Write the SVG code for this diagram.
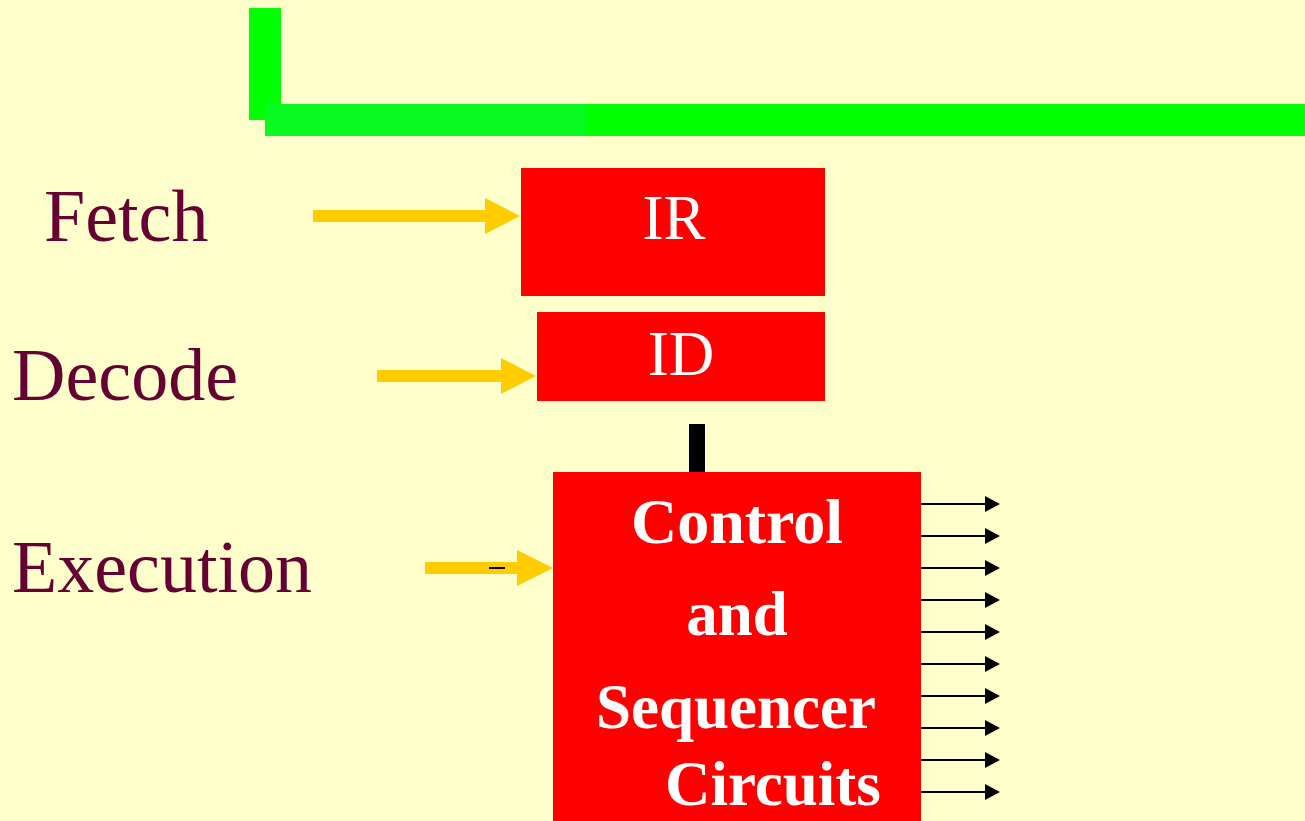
<svg xmlns="http://www.w3.org/2000/svg" width="1305" height="821" viewBox="0 0 1305 821">
  <style>
    .bg { fill: #FFFFCC; }
    .box { fill: #FF0000; }
    .lbl { font-family: "Liberation Serif", "Times New Roman", serif; font-size: 74px; fill: #660033; }
    .reg { font-family: "Liberation Serif", "Times New Roman", serif; font-size: 63px; fill: #FFFFFF; text-anchor: middle; }
    .bold { font-family: "Liberation Serif", "Times New Roman", serif; font-size: 63px; font-weight: bold; fill: #FFFFFF; }
    .yarrow { fill: #FFCC00; }
    .sig { stroke: #000000; stroke-width: 2.2; fill: none; }
  </style>
  <defs>
    <marker id="ah" markerUnits="userSpaceOnUse" markerWidth="15" markerHeight="16" refX="1" refY="8" orient="auto" viewBox="0 0 15 16">
      <path d="M0,0 L15,8 L0,16 Z" fill="#000000"/>
    </marker>
  </defs>
  <rect class="bg" x="0" y="0" width="1305" height="821"/>

  <g id="bus">
    <rect x="249" y="8" width="32" height="112" fill="#00FF00"/>
    <rect x="265" y="104" width="320" height="32" fill="#08FA20"/>
    <rect x="585" y="104" width="720" height="32" fill="#00FF00"/>
  </g>

  <g id="label-fetch"><text class="lbl" x="44" y="241">Fetch</text></g>
  <g id="label-decode"><text class="lbl" x="12" y="400">Decode</text></g>
  <g id="label-execution"><text class="lbl" x="12" y="592">Execution</text></g>

  <g id="node-ir">
    <rect class="box" x="521" y="168" width="304" height="128"/>
    <text class="reg" x="674" y="239">IR</text>
  </g>
  <g id="node-id">
    <rect class="box" x="537" y="312" width="288" height="89"/>
    <text class="reg" x="681" y="375">ID</text>
  </g>
  <g id="node-control">
    <rect class="box" x="553" y="472" width="368" height="349"/>
    <text class="bold" x="737" y="543" text-anchor="middle" style="font-size:64px">Control</text>
    <text class="bold" x="737" y="635" text-anchor="middle">and</text>
    <text class="bold" x="736" y="728" text-anchor="middle">Sequencer</text>
    <text class="bold" x="665" y="805">Circuits</text>
  </g>

  <g id="connectors">
    <polygon class="yarrow" points="313,210 485,210 485,198 520,216 485,234 485,222 313,222"/>
    <polygon class="yarrow" points="377,370 501,370 501,358 536,376 501,394 501,382 377,382"/>
    <polygon class="yarrow" points="425,562 517,562 517,550 553,568 517,586 517,574 425,574"/>
    <rect x="489" y="567" width="16" height="2" fill="#000000"/>
    <rect x="689" y="424" width="16" height="48" fill="#000000"/>
    <line class="sig" x1="921" y1="504" x2="986" y2="504" marker-end="url(#ah)"/>
    <line class="sig" x1="921" y1="536" x2="986" y2="536" marker-end="url(#ah)"/>
    <line class="sig" x1="921" y1="568" x2="986" y2="568" marker-end="url(#ah)"/>
    <line class="sig" x1="921" y1="600" x2="986" y2="600" marker-end="url(#ah)"/>
    <line class="sig" x1="921" y1="632" x2="986" y2="632" marker-end="url(#ah)"/>
    <line class="sig" x1="921" y1="664" x2="986" y2="664" marker-end="url(#ah)"/>
    <line class="sig" x1="921" y1="696" x2="986" y2="696" marker-end="url(#ah)"/>
    <line class="sig" x1="921" y1="728" x2="986" y2="728" marker-end="url(#ah)"/>
    <line class="sig" x1="921" y1="760" x2="986" y2="760" marker-end="url(#ah)"/>
    <line class="sig" x1="921" y1="792" x2="986" y2="792" marker-end="url(#ah)"/>
  </g>
</svg>
